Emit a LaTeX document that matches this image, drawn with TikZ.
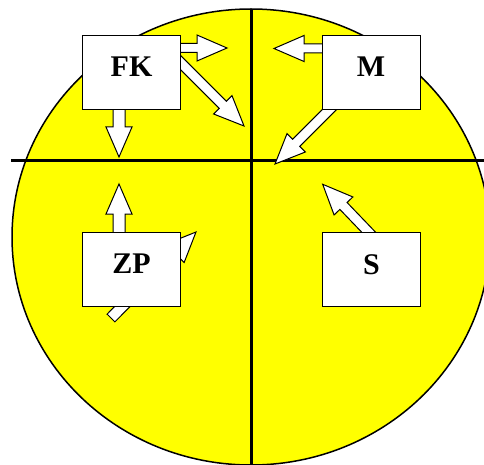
\documentclass[tikz,border=0pt]{standalone}
\usepackage{fontspec}
\setmainfont{Liberation Serif}
\usetikzlibrary{calc}
\definecolor{discyellow}{RGB}{255,255,0}
\newcommand\blockarrow[3]{%
  \coordinate (ba-h) at ($(#2)!30pt!(#1)$);
  \filldraw[arrowshape] ($(#1)!#3!90:(#2)$) -- ($(ba-h)!#3!90:(#2)$) -- ($(ba-h)!13pt!90:(#2)$) -- (#2)
    -- ($(ba-h)!13pt!-90:(#2)$) -- ($(ba-h)!#3!-90:(#2)$) -- ($(#1)!#3!-90:(#2)$) -- cycle;
}
\begin{document}
\begin{tikzpicture}[x=1pt,y=-1pt,
  box/.style={draw=black, fill=white, line width=1pt, minimum width=98pt, minimum height=74pt, inner sep=0pt},
  lbl/.style={font=\bfseries\fontsize{30}{30}\selectfont, inner sep=0pt, anchor=base},
  arrowshape/.style={draw=black, fill=white, line width=1pt, line join=miter},
  axis/.style={line width=3pt}]
\clip (0,0) rectangle (484,465);
\fill[white] (0,0) rectangle (484,465);
% disc
\filldraw[fill=discyellow, draw=black, line width=1.5pt] (251,237) ellipse [x radius=239, y radius=228];
% axes
\coordinate (vt) at (251,9);
\coordinate (vb) at (251,466);
\coordinate (hl) at (11,161);
\coordinate (hr) at (485,161);
\draw[axis] (vt) -- (vb);
\draw[axis] (hl) -- (hr);
% arrow end points
\coordinate (a1s) at (150,48);   \coordinate (a1t) at (227,48);
\coordinate (a2s) at (165,47);   \coordinate (a2t) at (244,126);
\coordinate (a3s) at (119,90);   \coordinate (a3t) at (119,157);
\coordinate (a4s) at (350,48.5); \coordinate (a4t) at (274,48.5);
\coordinate (a5s) at (345,94);   \coordinate (a5t) at (275,164);
\coordinate (a6s) at (119,250);  \coordinate (a6t) at (119,184);
\coordinate (a7s) at (111,318);  \coordinate (a7t) at (196,232);
\coordinate (a8s) at (374.5,238.3); \coordinate (a8t) at (322.7,184.3);
\blockarrow{a1s}{a1t}{4.5pt}
\blockarrow{a2s}{a2t}{5pt}
\blockarrow{a3s}{a3t}{6pt}
\blockarrow{a4s}{a4t}{4.5pt}
\blockarrow{a5s}{a5t}{5pt}
\blockarrow{a6s}{a6t}{6pt}
\blockarrow{a7s}{a7t}{5.5pt}
\blockarrow{a8s}{a8t}{5pt}
% boxes
\node[box] (fk) at (131,73) {};
\node[box] (m) at (371.2,73) {};
\node[box] (zp) at (131,269) {};
\node[box] (s) at (371,269) {};
\node[lbl] (fkt) at (131.5,77) {FK};
\node[lbl] (mt) at (371,77) {M};
\node[lbl] (zpt) at (131.5,273) {ZP};
\node[lbl] (st) at (371.5,274) {S};
\end{tikzpicture}
\end{document}
